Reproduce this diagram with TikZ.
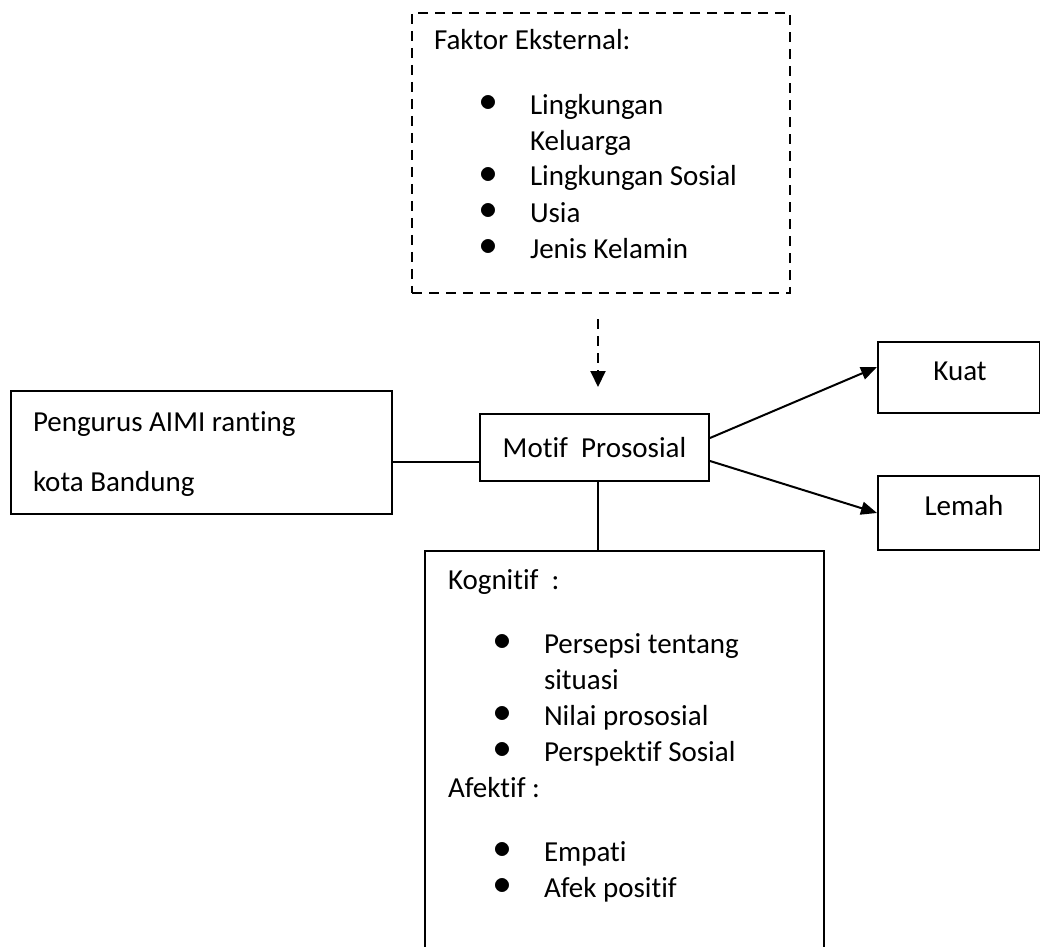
\documentclass[tikz,border=0pt]{standalone}
\usepackage{fontspec}
\setmainfont[Ligatures={NoCommon,NoContextual}]{Carlito}
\usetikzlibrary{arrows.meta}

\newcommand{\butir}[1]{\makebox[48pt][l]{\hspace{22.5pt}\raisebox{1.3pt}{\scalebox{1.25}{$\bullet$}}}#1}
\newcommand{\lanjut}[1]{\hspace*{48pt}#1}

\tikzset{
    kotak/.style={draw, rectangle, inner sep=0pt, line width=1pt},
    putus/.style={dash pattern=on 5pt off 3.5pt},
    isi/.style={anchor=north west, inner sep=0pt, align=left, font=\fontsize{14.5}{18}\selectfont},
    tulisan/.style={anchor=base, inner sep=0pt, font=\fontsize{14.5}{18}\selectfont},
}

\begin{document}
\begin{tikzpicture}[x=0.5pt,y=-0.5pt,line width=1pt]
            \clip (0,0) rectangle (1040,947);
            \node[kotak,putus,minimum width=189pt,minimum height=140pt] (faktor) at (601,153) {};
            \node[kotak,minimum width=190.5pt,minimum height=61.5pt] (pengurus) at (201.5,452.5) {};
            \node[kotak,minimum width=114.5pt,minimum height=33.5pt,font=\fontsize{14.5}{18}\selectfont] (motif) at (594.5,447.5) {Motif~~Prososial};
            \node[kotak,minimum width=81pt,minimum height=35.5pt] (kuat) at (959,377.5) {};
            \node[kotak,minimum width=81pt,minimum height=37pt] (lemah) at (959,513) {};
            \node[kotak,minimum width=199.5pt,minimum height=224.5pt] (kognitif) at (624.5,775.5) {};
            \node[isi] (tfaktor) at (433,22.8) {\strut Faktor Eksternal:\\[14.5pt]
                \butir{Lingkungan}\\
                \lanjut{Keluarga}\\
                \butir{Lingkungan Sosial}\\
                \butir{Usia}\\
                \butir{Jenis Kelamin}};
            \node[isi] (tpengurus) at (32,404.8) {\strut Pengurus AIMI ranting\\[12pt]
                kota Bandung};
            \node[isi] (tkognitif) at (447,562.8) {\strut Kognitif~~:\\[14pt]
                \butir{Persepsi tentang}\\
                \lanjut{situasi}\\
                \butir{Nilai prososial}\\
                \butir{Perspektif Sosial}\\
                Afektif :\\[14pt]
                \butir{Empati}\\
                \butir{Afek positif}};
            \node[tulisan] (tkuat) at (960,380) {Kuat};
            \node[tulisan] (tlemah) at (964,515) {Lemah};
            \draw ([yshift=-4.75pt]pengurus.east) -- ([yshift=-4.75pt]pengurus.east -| motif.west);
            \draw ([xshift=1.75pt]motif.south) -- ([xshift=1.75pt]motif.south |- kognitif.north);
            \begin{scope}[-{Triangle[length=8pt,width=6.5pt]}]
                \draw ([yshift=4.75pt]motif.east) -- ([yshift=5.25pt]kuat.west);
                \draw ([yshift=-6.75pt]motif.east) -- (lemah.west);
                \draw[putus,-{Triangle[length=8pt,width=7.5pt]}] ([xshift=-1.5pt,yshift=-12.5pt]faktor.south) -- ([xshift=1.75pt,yshift=13pt]motif.north);
            \end{scope}
        \end{tikzpicture}
\end{document}
